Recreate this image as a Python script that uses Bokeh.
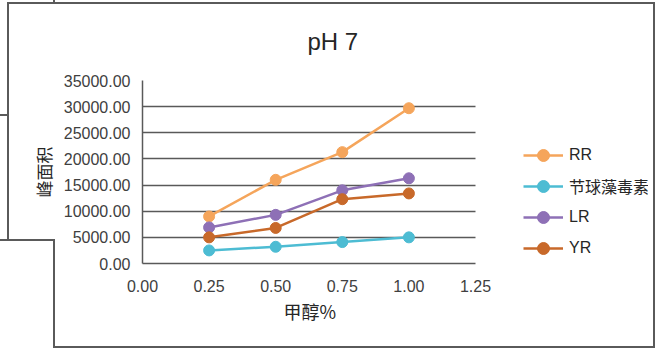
from bokeh.plotting import figure
from bokeh.models import (Range1d, NumeralTickFormatter, FixedTicker, Legend, LegendItem, Title)
from bokeh.embed import file_html
from bokeh.resources import INLINE

# ---- data ----
methanol = [0.25, 0.50, 0.75, 1.00]
rr = [9000, 16000, 21300, 29700]
nodularin = [2500, 3200, 4100, 5000]
lr = [6900, 9300, 14000, 16300]
yr = [5000, 6800, 12300, 13400]
series_names = ["RR", "节球藻毒素", "LR", "YR"]
series_values = [rr, nodularin, lr, yr]
colors = ["#F5A55B", "#4DBCD3", "#8E70B6", "#C8692A"]
x_ticks = [0, 0.25, 0.5, 0.75, 1.0, 1.25]
y_ticks = [0, 5000, 10000, 15000, 20000, 25000, 30000, 35000]
title_text = "pH 7"
x_label = "甲醇%"
y_label = "峰面积"

LATIN = "'Liberation Sans', 'Noto Sans CJK SC'"
CJK = "'Noto Sans CJK SC'"
GRID = "#595959"
TXT = "#404040"
DARK = "#262626"

# layout: plot frame spans from x=142 to the right edge; the data axis (0..1.25)
# occupies the first 333 px, the remainder holds the legend.
W, H = 658, 349
LEFT, RIGHT, TOP, BOTTOM = 142, 10, 79, 86
AXIS_PX = 333
x_max = x_ticks[-1]
x_end = x_max * (W - LEFT - RIGHT) / AXIS_PX

p = figure(width=W, height=H, output_backend="svg", toolbar_location=None,
           x_range=Range1d(0, x_end), y_range=Range1d(0, y_ticks[-1]),
           min_border_left=LEFT, min_border_right=RIGHT,
           min_border_top=TOP, min_border_bottom=BOTTOM)
p.outline_line_color = None
p.background_fill_color = "white"
p.border_fill_color = None

# title
p.title.text = title_text
p.title.text_font = LATIN
p.title.text_font_size = "24px"
p.title.text_font_style = "normal"
p.title.text_color = DARK
p.title.align = "left"
p.title.offset = 165
p.title.standoff = 51

p.xgrid.visible = False
p.ygrid.grid_line_color = GRID
p.ygrid.grid_line_width = 1.5
p.ygrid.ticker = FixedTicker(ticks=y_ticks)
p.ygrid.cross_bounds = (0, x_max)

for ax in (p.xaxis[0], p.yaxis[0]):
    ax.major_tick_line_color = None
    ax.minor_tick_line_color = None
    ax.axis_line_color = GRID
    ax.axis_line_width = 1.5
    ax.major_label_text_font = LATIN
    ax.major_label_text_font_size = "16px"
    ax.major_label_text_color = TXT
    ax.formatter = NumeralTickFormatter(format="0.00")
p.xaxis[0].ticker = FixedTicker(ticks=x_ticks)
p.xaxis[0].bounds = (0, x_max)
p.yaxis[0].ticker = FixedTicker(ticks=y_ticks)
p.xaxis[0].major_label_standoff = 10
p.yaxis[0].major_label_standoff = 6
p.yaxis[0].axis_label = y_label
p.yaxis[0].axis_label_text_font = CJK
p.yaxis[0].axis_label_text_font_style = "normal"
p.yaxis[0].axis_label_text_color = DARK
p.yaxis[0].axis_label_text_font_size = "17px"
p.yaxis[0].axis_label_standoff = 5

# x-axis title placed below the axis, centred on the data part of the axis
p.add_layout(Title(text=x_label, align="left", offset=141, text_font=CJK,
                   text_font_size="18px", text_font_style="normal",
                   text_color=DARK, standoff=3), "below")

items = []
for name, vals, col in zip(series_names, series_values, colors):
    lr_ = p.line(methanol, vals, line_color=col, line_width=2.5)
    sr_ = p.scatter(methanol, vals, size=11, fill_color=col, line_color=col)
    items.append(LegendItem(label=name, renderers=[lr_, sr_]))

legend = Legend(items=items, location=(381, 0), glyph_width=40, glyph_height=30,
                label_standoff=6, spacing=1, padding=0, margin=0,
                border_line_alpha=0, background_fill_alpha=0,
                label_text_font=LATIN, label_text_font_size="16px",
                label_text_color=DARK)
p.add_layout(legend)

# page decoration: chart border and document table lines (CSS backgrounds)
seg = [  # (left, top, width, height) in page pixels
    (8, 2, 646, 2), (653, 2, 2, 346), (54, 346, 601, 2), (7, 2, 2, 239),
    (0, 239, 55, 2), (53, 239, 2, 109), (0, 114, 8, 2), (53, 0, 2, 3),
]
p.styles = {
    "background-image": ", ".join(["linear-gradient(#5a5a5a, #5a5a5a)"] * len(seg)),
    "background-position": ", ".join(f"{l}px {t}px" for l, t, w, h in seg),
    "background-size": ", ".join(f"{w}px {h}px" for l, t, w, h in seg),
    "background-repeat": "no-repeat",
    "background-color": "white",
}

open("out.html", "w").write(file_html(p, INLINE))
